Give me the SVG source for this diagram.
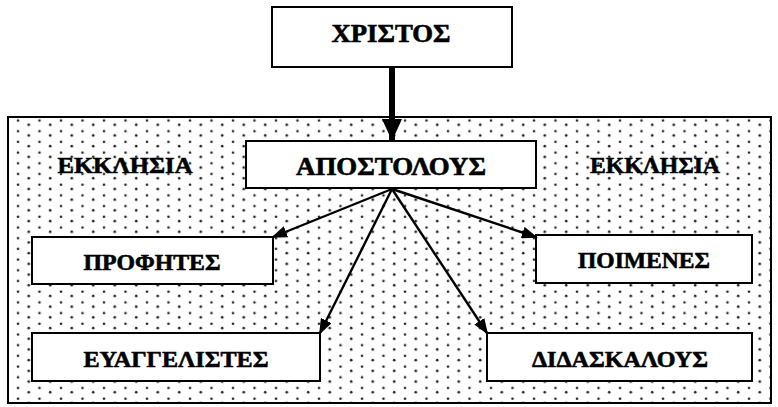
<svg xmlns="http://www.w3.org/2000/svg" width="778" height="407" viewBox="0 0 778 407">
  <defs>
    <pattern id="dots" patternUnits="userSpaceOnUse" x="13" y="289" width="21.5" height="10.7">
      <circle cx="5" cy="2.7" r="1.3" fill="#222"/>
      <circle cx="15.75" cy="7" r="1.3" fill="#222"/>
    </pattern>
    <marker id="head" markerUnits="userSpaceOnUse" markerWidth="16" markerHeight="12" refX="14" refY="6" orient="auto" viewBox="0 0 16 12">
      <path d="M0,0 L16,6 L0,12 Z" fill="#000"/>
    </marker>
    <marker id="bighead" markerUnits="userSpaceOnUse" markerWidth="22" markerHeight="20" refX="22" refY="10" orient="auto" viewBox="0 0 22 20">
      <path d="M0,0 L22,10 L0,20 Z" fill="#000"/>
    </marker>
  </defs>
  <rect width="778" height="407" fill="#fff"/>
  <g id="church">
    <rect x="8" y="117" width="763" height="286" fill="url(#dots)" stroke="#000" stroke-width="2"/>
    <text x="125" y="173" font-family="Liberation Serif" font-weight="bold" font-size="23" text-anchor="middle" fill="#000" stroke="#000" stroke-width="0.6" textLength="135" lengthAdjust="spacingAndGlyphs">ΕΚΚΛΗΣΙΑ</text>
    <text x="655" y="173" font-family="Liberation Serif" font-weight="bold" font-size="23" text-anchor="middle" fill="#000" stroke="#000" stroke-width="0.6" textLength="130" lengthAdjust="spacingAndGlyphs">ΕΚΚΛΗΣΙΑ</text>
  </g>
  <g id="christ">
    <rect x="272" y="7" width="240" height="60" fill="#fff" stroke="#000" stroke-width="2"/>
    <text x="391" y="42" font-family="Liberation Serif" font-weight="bold" font-size="25" text-anchor="middle" fill="#000" stroke="#000" stroke-width="0.6" textLength="119" lengthAdjust="spacingAndGlyphs">ΧΡΙΣΤΟΣ</text>
  </g>
  <g id="apostles">
    <rect x="246" y="141" width="290" height="47" fill="#fff" stroke="#000" stroke-width="2"/>
    <text x="391" y="175" font-family="Liberation Serif" font-weight="bold" font-size="25" text-anchor="middle" fill="#000" stroke="#000" stroke-width="0.6" textLength="190" lengthAdjust="spacingAndGlyphs">ΑΠΟΣΤΟΛΟΥΣ</text>
  </g>
  <g id="prophets">
    <rect x="32" y="237" width="241" height="47" fill="#fff" stroke="#000" stroke-width="2"/>
    <text x="152" y="270" font-family="Liberation Serif" font-weight="bold" font-size="23" text-anchor="middle" fill="#000" stroke="#000" stroke-width="0.6" textLength="137" lengthAdjust="spacingAndGlyphs">ΠΡΟΦΗΤΕΣ</text>
  </g>
  <g id="evangelists">
    <rect x="32" y="333" width="288" height="48" fill="#fff" stroke="#000" stroke-width="2"/>
    <text x="176" y="367" font-family="Liberation Serif" font-weight="bold" font-size="23" text-anchor="middle" fill="#000" stroke="#000" stroke-width="0.6" textLength="185" lengthAdjust="spacingAndGlyphs">ΕΥΑΓΓΕΛΙΣΤΕΣ</text>
  </g>
  <g id="pastors">
    <rect x="536" y="235" width="216" height="48" fill="#fff" stroke="#000" stroke-width="2"/>
    <text x="644" y="268" font-family="Liberation Serif" font-weight="bold" font-size="23" text-anchor="middle" fill="#000" stroke="#000" stroke-width="0.6" textLength="132" lengthAdjust="spacingAndGlyphs">ΠΟΙΜΕΝΕΣ</text>
  </g>
  <g id="teachers">
    <rect x="487" y="333" width="265" height="48" fill="#fff" stroke="#000" stroke-width="2"/>
    <text x="620" y="367" font-family="Liberation Serif" font-weight="bold" font-size="23" text-anchor="middle" fill="#000" stroke="#000" stroke-width="0.6" textLength="176" lengthAdjust="spacingAndGlyphs">ΔΙΔΑΣΚΑΛΟΥΣ</text>
  </g>
  <g id="connectors" stroke="#000" fill="none">
    <line x1="392" y1="67" x2="392" y2="141" stroke-width="6" marker-end="url(#bighead)"/>
    <line x1="392" y1="189" x2="273" y2="237" stroke-width="2.4" marker-end="url(#head)"/>
    <line x1="392" y1="189" x2="320" y2="333" stroke-width="2.4" marker-end="url(#head)"/>
    <line x1="392" y1="189" x2="536" y2="237" stroke-width="2.4" marker-end="url(#head)"/>
    <line x1="392" y1="189" x2="487" y2="333" stroke-width="2.4" marker-end="url(#head)"/>
  </g>
</svg>
